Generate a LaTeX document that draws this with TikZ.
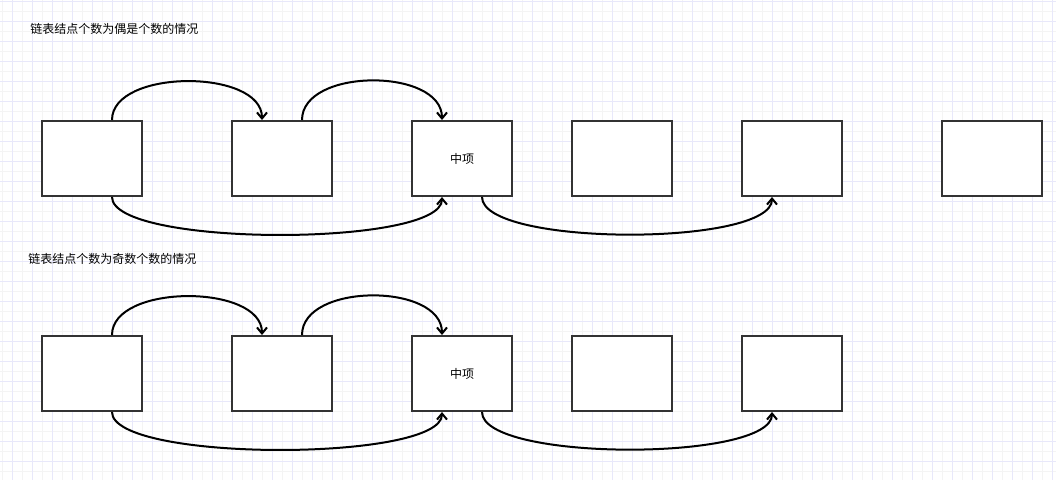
\documentclass[tikz,border=0pt]{standalone}
\usepackage{fontspec}
\newfontfamily\cjk{Noto Sans CJK SC}
\usepackage{tikz}
\usetikzlibrary{arrows.meta}
\definecolor{gridminor}{HTML}{F4F4F4}
\definecolor{gridmajor}{HTML}{E8E8FA}
\definecolor{boxline}{HTML}{333333}

\begin{document}
\begin{tikzpicture}[x=0.75pt,y=0.75pt,
		box/.style={draw=boxline,line width=1.5pt,fill=white,inner sep=0pt,
			minimum width=75pt,minimum height=56.25pt,font=\cjk\fontsize{9}{11}\selectfont},
		link/.style={line width=1.5pt,-{Straight Barb[length=4.5pt,width=7.5pt]}},
		title/.style={anchor=west,inner sep=0pt,font=\cjk\fontsize{9}{11}\selectfont}]
	\useasboundingbox (0,0) rectangle (1056,-480);
	% grid
	\fill[white] (0,0) rectangle (1056,-480);
	\foreach \x in {2,22,...,1052} \draw[gridminor,line width=0.75pt] (\x,0) -- (\x,-480);
	\foreach \y in {11,31,...,471} \draw[gridminor,line width=0.75pt] (0,-\y) -- (1056,-\y);
	\foreach \x in {12,32,...,1052} \draw[gridmajor,line width=0.75pt] (\x,0) -- (\x,-480);
	\foreach \y in {1,21,...,471} \draw[gridmajor,line width=0.75pt] (0,-\y) -- (1056,-\y);

	% even case
	\node[title] (t1) at (30,-28.5) {链表结点个数为偶是个数的情况};
	\node[box] (a1) at (92,-158.5) {};
	\node[box] (a2) at (282,-158.5) {};
	\node[box] (a3) at (462,-158.5) {中项};
	\node[box] (a4) at (622,-158.5) {};
	\node[box] (a5) at (792,-158.5) {};
	\node[box] (a6) at (992,-158.5) {};
	\draw[link] ([xshift=15pt]a1.north) to[out=90,in=90,looseness=0.88] ([xshift=-15pt]a2.north);
	\draw[link] ([xshift=15pt]a2.north) to[out=90,in=90,looseness=0.96] ([xshift=-15pt]a3.north);
	\draw[link] ([xshift=15pt]a1.south) to[out=-90,in=-90,looseness=0.39] ([xshift=-15pt]a3.south);
	\draw[link] ([xshift=15pt]a3.south) to[out=-90,in=-90,looseness=0.44] ([xshift=-15pt]a5.south);

	% odd case
	\node[title] (t2) at (28,-258.5) {链表结点个数为奇数个数的情况};
	\node[box] (b1) at (92,-373.5) {};
	\node[box] (b2) at (282,-373.5) {};
	\node[box] (b3) at (462,-373.5) {中项};
	\node[box] (b4) at (622,-373.5) {};
	\node[box] (b5) at (792,-373.5) {};
	\draw[link] ([xshift=15pt]b1.north) to[out=90,in=90,looseness=0.88] ([xshift=-15pt]b2.north);
	\draw[link] ([xshift=15pt]b2.north) to[out=90,in=90,looseness=0.96] ([xshift=-15pt]b3.north);
	\draw[link] ([xshift=15pt]b1.south) to[out=-90,in=-90,looseness=0.39] ([xshift=-15pt]b3.south);
	\draw[link] ([xshift=15pt]b3.south) to[out=-90,in=-90,looseness=0.44] ([xshift=-15pt]b5.south);
\end{tikzpicture}
\end{document}
